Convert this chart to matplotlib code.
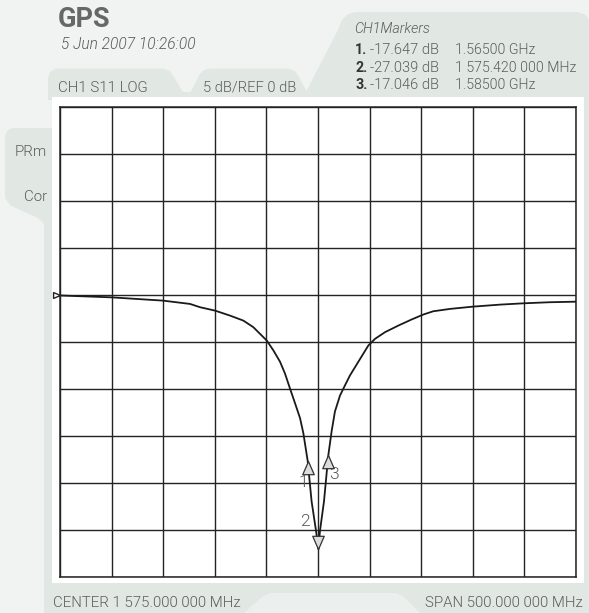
import numpy as np
import matplotlib
matplotlib.use("Agg")
import matplotlib.pyplot as plt
from matplotlib.patches import Polygon, FancyBboxPatch, Rectangle
from matplotlib.path import Path

# ---- data ----
freq_mhz = [1325.0, 1375.0, 1425.0, 1451.0, 1460.7, 1475.2, 1489.7, 1502.6, 1512.3,
            1518.8, 1525.3, 1531.8, 1538.2, 1543.0, 1547.9, 1552.7, 1557.6, 1560.8,
            1565.0, 1568.8, 1573.1, 1575.42, 1576.9, 1580.8, 1585.0, 1588.2, 1591.4,
            1596.3, 1601.2, 1606.0, 1614.1, 1623.8, 1630.3, 1640.0, 1652.9, 1665.8,
            1677.0, 1686.7, 1702.9, 1724.9, 1751.9, 1774.9, 1799.4, 1825.0]
s11_db = [-0.05, -0.25, -0.6, -0.95, -1.3, -1.66, -2.19, -2.72, -3.42,
          -4.13, -4.84, -5.9, -7.1, -8.35, -9.96, -11.5, -13.1, -14.7,
          -17.647, -21.96, -25.1, -27.039, -25.1, -21.96, -17.046, -14.5, -12.4,
          -10.7, -9.6, -8.55, -7.1, -5.37, -4.66, -3.95, -3.25, -2.6,
          -2.08, -1.73, -1.48, -1.24, -1.02, -0.88, -0.77, -0.71]
marker_freq = [1565.0, 1575.42, 1585.0]
marker_db = [-17.647, -27.039, -17.046]
marker_names = ["1", "2", "3"]
marker_nums = ["1.", "2.", "3."]
marker_vals = ["-17.647 dB", "-27.039 dB", "-17.046 dB"]
marker_freqs = ["1.56500 GHz", "1 575.420 000 MHz", "1.58500 GHz"]
center_mhz = 1575.0
span_mhz = 500.0
ref_db = 0.0
db_per_div = 5.0

W, H = 589, 613
fig = plt.figure(figsize=(W / 100, H / 100), dpi=100)
fig.patch.set_facecolor("#f0f3f1")

bg = fig.add_axes([0, 0, 1, 1])
bg.set_xlim(0, W)
bg.set_ylim(H, 0)
bg.axis("off")

tab = "#e1e8e4"
txt = "#5c5c5c"
FONT = "Roboto"
LIGHT = 300

# main surrounding panel
bg.add_patch(FancyBboxPatch((44, 200), W - 44 + 20, H - 200 + 20,
                            boxstyle="round,pad=0,rounding_size=8", fc=tab, ec="none"))
bg.add_patch(Rectangle((52, 92), W - 52, 120, fc=tab, ec="none"))
# tab 1: CH1 S11 LOG
bg.add_patch(Polygon([(48, 100), (48, 78), (50, 72), (56, 68.5), (163, 68.5), (170, 71),
                      (174, 77), (184, 94), (186, 97), (190, 97)], closed=True,
                     fc=tab, ec="none"))
# tab 2: 5 dB/REF
bg.add_patch(Polygon([(188, 97), (200, 74), (204, 70), (210, 68.5), (288, 68.5),
                      (295, 71), (299, 77), (308, 94), (312, 97)], closed=True,
                     fc=tab, ec="none"))
# tab 3: markers
bg.add_patch(Polygon([(303, 97), (308, 88), (338, 30), (342, 20), (348, 14), (356, 12),
                      (578, 12), (586, 15), (589, 20), (589, 97)],
                     closed=True, fc=tab, ec="none"))
# left side tab
bg.add_patch(FancyBboxPatch((5, 128), 60, 75,
                            boxstyle="round,pad=0,rounding_size=10", fc=tab, ec="none"))
bg.add_patch(Polygon([(5, 190), (5, 198), (10, 205), (20, 210), (38, 218), (44, 224),
                      (52, 228), (52, 190)], closed=True, fc=tab, ec="none"))
# bottom tab bump (lighter)
bg.add_patch(Polygon([(244, 613), (262, 597), (270, 593), (396, 593), (404, 597),
                      (420, 613)], closed=True, fc="#ebefed", ec="none"))
# white screen
bg.add_patch(Rectangle((52, 97), 532, 486, fc="white", ec="none"))

# texts
bg.text(58, 27, "GPS", fontsize=19.5, fontweight="bold", color="#676767",
        family=["Liberation Sans Narrow", "Roboto"], va="baseline", ha="left")
bg.text(61, 49, "5 Jun 2007 10:26:00", fontsize=11.2, style="italic", color=txt,
        family=FONT, va="baseline", fontweight=LIGHT)
bg.text(58, 92, "CH1 S11 LOG", fontsize=10.8, color=txt, family=FONT, va="baseline",
        fontweight=LIGHT)
bg.text(203, 92, "5 dB/REF 0 dB", fontsize=10.6, color=txt, family=FONT, va="baseline",
        fontweight=LIGHT)
bg.text(354, 33, "CH1Markers", fontsize=10.3, style="italic", color=txt, family=FONT,
        va="baseline", fontweight=LIGHT)
for i in range(3):
    y = 54 + i * 17.6
    bg.text(355, y, marker_nums[i], fontsize=10.3, fontweight="bold", color="#333333",
            family=FONT, va="baseline")
    bg.text(370, y, marker_vals[i], fontsize=10.5, color=txt, family=FONT,
            va="baseline", fontweight=LIGHT)
    bg.text(455, y, marker_freqs[i], fontsize=10.2, color=txt, family=FONT,
            va="baseline", fontweight=LIGHT)
bg.text(53, 607, "CENTER 1 575.000 000 MHz", fontsize=10.8, color=txt, family=FONT,
        va="baseline", fontweight=LIGHT)
bg.text(583, 607, "SPAN 500.000 000 MHz", fontsize=10.8, color=txt, family=FONT,
        va="baseline", ha="right", fontweight=LIGHT)
bg.text(47, 156, "PRm", fontsize=10.8, color=txt, family=FONT, va="baseline",
        ha="right", fontweight=LIGHT)
bg.text(47, 201, "Cor", fontsize=10.8, color=txt, family=FONT, va="baseline",
        ha="right", fontweight=LIGHT)

# ---- trace axes ----
L, R, T, B = 60, 576, 107, 577
ax = fig.add_axes([L / W, 1 - B / H, (R - L) / W, (B - T) / H])
ax.set_facecolor("white")
xmin, xmax = center_mhz - span_mhz / 2, center_mhz + span_mhz / 2
ymax = ref_db + 4 * db_per_div
ymin = ref_db - 6 * db_per_div
ax.set_xlim(xmin, xmax)
ax.set_ylim(ymin, ymax)
ax.set_xticks(np.linspace(xmin, xmax, 11))
ax.set_yticks(np.linspace(ymin, ymax, 11))
ax.tick_params(length=0, labelbottom=False, labelleft=False)
ax.grid(True, color="#232323", lw=1.0)
for s in ax.spines.values():
    s.set_color("#232323")
    s.set_linewidth(1.1)

ax.plot(freq_mhz, s11_db, color="#1a1a1a", lw=1.3, zorder=3,
        solid_joinstyle="round")


def tri(pts):
    return Path(pts + [pts[0]], [Path.MOVETO, Path.LINETO, Path.LINETO, Path.CLOSEPOLY])


# markers: tip sits on the value
up = tri([(0, 0), (-0.48, -1.1), (0.48, -1.1)])
down = tri([(0, 0), (-0.48, 1.1), (0.48, 1.1)])
offsets = {"1": (-4, -22), "2": (-13, 28), "3": (6, -19)}
for f, d, n in zip(marker_freq, marker_db, marker_names):
    m = down if n == "2" else up
    ax.plot(f, d, marker=m, ms=19, mfc="#dcdcdc", mec="#333333", mew=0.9,
            zorder=5, linestyle="none")
    ax.annotate(n, (f, d), xytext=offsets[n], textcoords="offset pixels",
                fontsize=12.5, color="#5a5a5a", family=FONT, fontweight=LIGHT,
                ha="center", va="center")

# reference marker (points right, tip on left edge)
ref_m = tri([(0, 0), (-1.0, 0.42), (-1.0, -0.42)])
ax.plot(xmin, ref_db, marker=ref_m, ms=10, mfc="white", mec="#222222", mew=1.0,
        clip_on=False, zorder=6, linestyle="none")

fig.savefig("out.png", dpi=100)
